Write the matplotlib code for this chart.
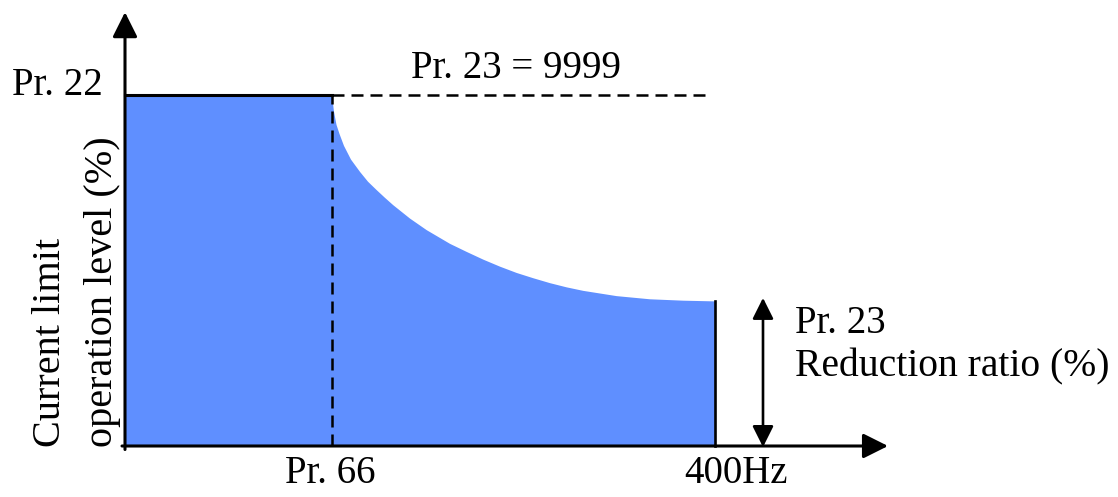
import numpy as np
import matplotlib
matplotlib.use("Agg")
import matplotlib.pyplot as plt

# x in arbitrary frequency units (0 = origin), y in % of Pr. 22 level
base_freq = 207.0      # Pr. 66
max_freq = 590.0       # 400Hz
top_level = 100.0      # Pr. 22
end_level = 41.2       # Pr. 23 reduction ratio

# curve (freq, level)
curve_x = [207.0, 207.6, 209.0, 211.5, 214.5, 219.0, 226.0, 235.0, 243.0,
           251.7, 260.0, 268.3, 285.0, 301.7, 325.0, 341.7, 358.3, 375.0,
           391.7, 408.3, 425.0, 441.7, 458.3, 491.7, 525.0, 558.3, 590.0]
curve_y = [100.0, 98.6, 95.2, 91.5, 88.9, 85.5, 81.6, 78.1, 75.3,
           72.9, 70.7, 68.6, 64.8, 61.5, 57.6, 55.3, 53.1, 51.1,
           49.3, 47.8, 46.4, 45.2, 44.2, 42.7, 41.8, 41.4, 41.2]

fill_color = "#5F8FFF"
font = ["Liberation Serif", "DejaVu Serif"]
fs = 28

fig = plt.figure(figsize=(11.18, 4.97), dpi=100)
ax = fig.add_axes([0, 0, 1, 1])
ax.set_xlim(-125, 993)
ax.set_ylim(-14.53, 127.07)
ax.axis("off")

# blue area
px = [0, 0] + curve_x + [max_freq]
py = [0, top_level] + curve_y + [0]
ax.fill(px, py, color=fill_color, lw=0, zorder=1)

# outlines
ax.plot([0, base_freq], [top_level, top_level], color="k", lw=2.2, zorder=3)
ax.plot([max_freq, max_freq], [0, end_level], color="k", lw=1.9, zorder=3)
ax.plot([base_freq, 582], [top_level, top_level], color="k", lw=1.8,
        dashes=(4.8, 2.8), zorder=3)
ax.plot([base_freq, base_freq], [0, top_level], color="k", lw=1.8,
        dashes=(4.8, 2.8), zorder=3)

# axes with arrows
ax.annotate("", xy=(0, 123.6), xytext=(0, -1.0),
            arrowprops=dict(arrowstyle="-|>,head_length=0.4,head_width=0.2",
                            mutation_scale=38, lw=2.2, color="k",
                            shrinkA=0, shrinkB=0), zorder=4)
ax.annotate("", xy=(763, 0), xytext=(-3, 0),
            arrowprops=dict(arrowstyle="-|>,head_length=0.4,head_width=0.2",
                            mutation_scale=38, lw=2.2, color="k",
                            shrinkA=0, shrinkB=0), zorder=4)

# reduction ratio double arrow
ax.annotate("", xy=(638, 42.2), xytext=(638, -0.3),
            arrowprops=dict(arrowstyle="<|-|>,head_length=0.4,head_width=0.2",
                            mutation_scale=32, lw=1.9, color="k",
                            shrinkA=0, shrinkB=0), zorder=4)

# labels
ax.text(-22, top_level, "Pr. 22", family=font, fontsize=fs,
        ha="right", va="baseline")
ax.text(391, 104.8, "Pr. 23 = 9999", family=font, fontsize=fs,
        ha="center", va="baseline")
ax.text(670, 32.2, "Pr. 23", family=font, fontsize=fs,
        ha="left", va="baseline")
ax.text(670, 19.7, "Reduction ratio (%)", family=font, fontsize=28.5,
        ha="left", va="baseline")
ax.text(base_freq - 2, -10.6, "Pr. 66", family=font, fontsize=fs,
        ha="center", va="baseline")
ax.text(611, -10.6, "400Hz", family=font, fontsize=fs,
        ha="center", va="baseline")

ax.text(-65, -0.3, "Current limit", family=font, fontsize=29,
        rotation=90, rotation_mode="anchor", ha="left", va="baseline")
ax.text(-13, -0.3, "operation level (%)", family=font, fontsize=29,
        rotation=90, rotation_mode="anchor", ha="left", va="baseline")

fig.savefig("out.png", dpi=100)
